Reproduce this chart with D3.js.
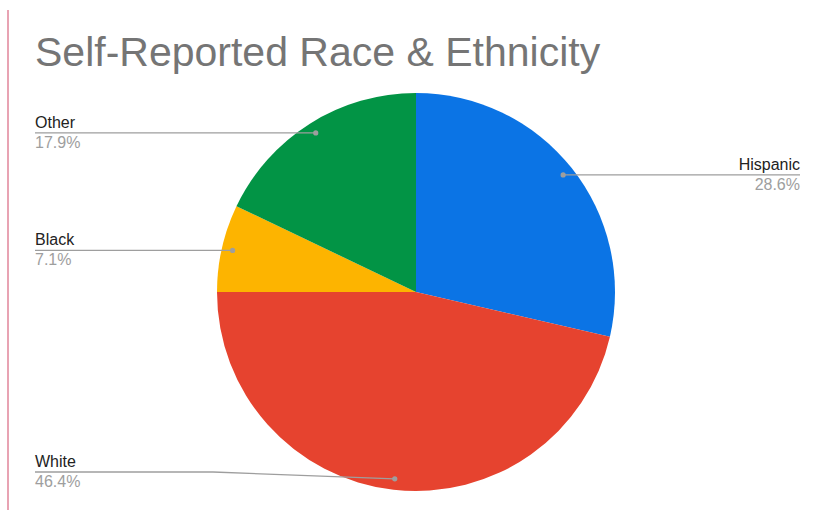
<!DOCTYPE html>
<html>
<head>
<meta charset="utf-8">
<script src="https://cdn.jsdelivr.net/npm/d3@7"></script>
<style>
  html, body { margin: 0; padding: 0; background: #fff; }
  svg { display: block; font-family: "Liberation Sans", Arial, sans-serif; }
</style>
</head>
<body>
<svg id="chart" width="817" height="510"></svg>
<script>
// Survey breakdown, in drawing order (clockwise from 12 o'clock)
const categories = ["Hispanic", "White", "Black", "Other"];
const shares = [28.6, 46.4, 7.1, 17.9];
const colors = ["#0b74e5", "#e6432f", "#fdb400", "#029445"];
const chartTitle = "Self-Reported Race & Ethnicity";

const width = 817, height = 510;
const cx = 416, cy = 292, radius = 199;

const svg = d3.select("#chart");

// left accent rule
svg.append("line")
  .attr("x1", 8).attr("x2", 8)
  .attr("y1", 10).attr("y2", height)
  .attr("stroke", "#e8a3b3").attr("stroke-width", 2);

svg.append("text")
  .attr("x", 35).attr("y", 66)
  .attr("font-size", 41)
  .attr("fill", "#757575")
  .text(chartTitle);

const data = categories.map((c, i) => ({ name: c, value: shares[i], color: colors[i] }));

const pie = d3.pie().value(d => d.value).sort(null);
const arcs = pie(data);
const arc = d3.arc().innerRadius(0).outerRadius(radius);

const g = svg.append("g").attr("transform", `translate(${cx},${cy})`);
g.selectAll("path.slice")
  .data(arcs)
  .join("path")
  .attr("class", "slice")
  .attr("d", arc)
  .attr("fill", d => d.data.color);

// leader lines and labels
const dotR = radius * 0.945;
const labelTop = 100, labelBottom = 472;
const leftX = 35, rightX = 800;

arcs.forEach(a => {
  const mid = (a.startAngle + a.endAngle) / 2;
  const dx = cx + Math.sin(mid) * dotR;
  const dy = cy - Math.cos(mid) * dotR;
  const onRight = Math.sin(mid) > 0;
  const ly = Math.max(labelTop, Math.min(labelBottom, dy));
  const endX = onRight ? rightX : leftX;
  const elbowX = onRight ? rightX - 200 : leftX + 178;

  let path;
  if (Math.abs(ly - dy) < 1) {
    path = `M${dx},${dy}L${endX},${ly}`;
  } else {
    path = `M${dx},${dy}L${elbowX},${ly}L${endX},${ly}`;
  }
  svg.append("path")
    .attr("d", path)
    .attr("fill", "none")
    .attr("stroke", "#9e9e9e")
    .attr("stroke-width", 1.3);
  svg.append("circle")
    .attr("cx", dx).attr("cy", dy).attr("r", 2.6)
    .attr("fill", "#9e9e9e");

  const anchor = onRight ? "end" : "start";
  svg.append("text")
    .attr("x", endX).attr("y", ly - 5)
    .attr("text-anchor", anchor)
    .attr("font-size", 16)
    .attr("fill", "#222")
    .text(a.data.name);
  svg.append("text")
    .attr("x", endX).attr("y", ly + 15)
    .attr("text-anchor", anchor)
    .attr("font-size", 16)
    .attr("fill", "#9e9e9e")
    .text(d3.format(".1f")(a.data.value) + "%");
});
</script>
</body>
</html>
